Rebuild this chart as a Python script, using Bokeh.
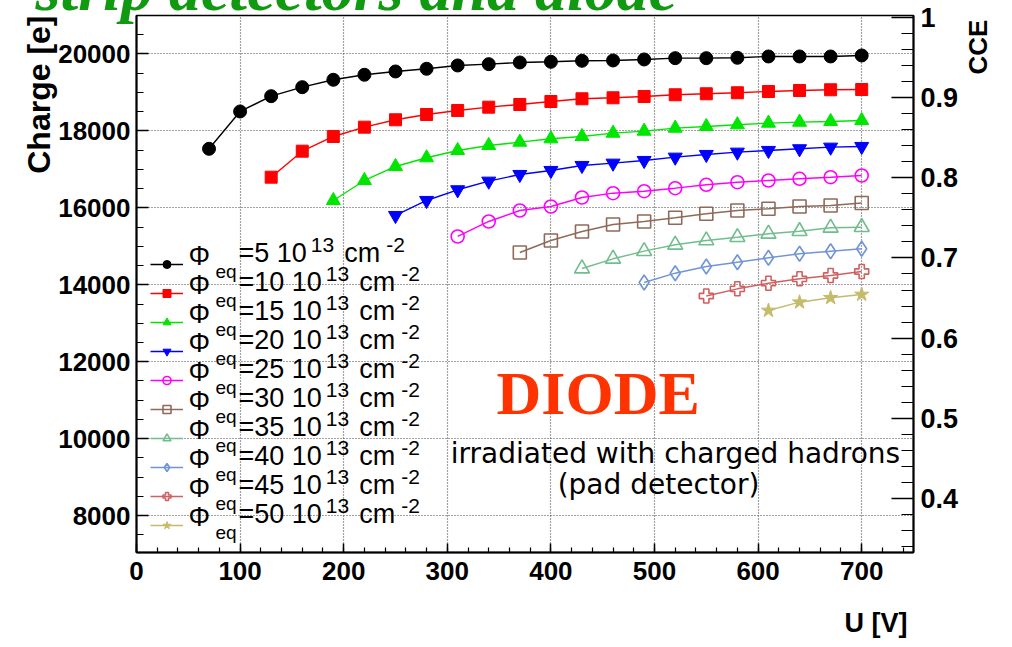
from math import pi
from bokeh.plotting import figure
from bokeh.models import (Range1d, LinearAxis, SingleIntervalTicker, Label,
                          Legend, LegendItem, CustomJSTickFormatter)
from bokeh.embed import file_html
from bokeh.resources import INLINE

# ---------------- data ----------------
voltage = [70, 100, 130, 160, 190, 220, 250, 280, 310, 340, 370,
           400, 430, 460, 490, 520, 550, 580, 610, 640, 670, 700]
fluence = [5, 10, 15, 20, 25, 30, 35, 40, 45, 50]

charge_f5 = [17535, 18505, 18903, 19137, 19329, 19459, 19545, 19615, 19701, 19735, 19779,
             19797, 19823, 19831, 19857, 19891, 19891, 19901, 19935, 19935, 19935, 19961]
charge_f10 = [16797, 17473, 17855, 18097, 18289, 18427, 18531, 18617, 18687, 18765,
              18835, 18861, 18895, 18939, 18965, 18991, 19025, 19051, 19069, 19077]
charge_f15 = [16191, 16711, 17075, 17301, 17491, 17621, 17707, 17795, 17855,
              17941, 17993, 18071, 18115, 18159, 18201, 18227, 18245, 18271]
charge_f20 = [15801, 16191, 16469, 16693, 16867, 16971, 17101, 17161,
              17231, 17317, 17387, 17447, 17491, 17535, 17577, 17595]
charge_f25 = [15255, 15645, 15931, 16035, 16269, 16381, 16433,
              16511, 16599, 16667, 16711, 16755, 16797, 16841]
charge_f30 = [14839, 15151, 15385, 15567, 15645, 15741, 15845, 15931, 15975, 16035, 16061, 16126]
charge_f35 = [14423, 14675, 14873, 15039, 15151, 15237, 15325, 15393, 15481, 15497]
charge_f40 = [14059, 14301, 14475, 14587, 14701, 14805, 14873, 14935]
charge_f45 = [13708, 13895, 14041, 14155, 14241, 14345]
charge_f50 = [13331, 13547, 13661, 13747]

series = [charge_f5, charge_f10, charge_f15, charge_f20, charge_f25,
          charge_f30, charge_f35, charge_f40, charge_f45, charge_f50]

x_ticks_interval = 100
charge_ticks_interval = 2000
cce_ticks_interval = 0.1

# ---------------- styles ----------------
colors = ["#000000", "#ff0000", "#00e600", "#0000ff", "#ff00ff",
          "#8f6a5a", "#72bd8e", "#7094d8", "#d06060", "#c4bc6a"]
markers = ["circle", "square", "triangle", "inverted_triangle", "circle",
           "square", "triangle", "diamond", "plus", "star"]
filled = [True, True, True, True, False, False, False, False, False, True]
sizes = [13, 12, 14, 14, 13, 13, 15, 15, 14, 15]

W = 1012
SHIFT = 43                      # canvas pushed up by this much (title cut off at top)
H = 647 + SHIFT
FL, FR, FT, FB = 136, 913, 15, 552   # frame edges in page pixels

p = figure(width=W, height=H, output_backend="svg", toolbar_location=None,
           x_range=Range1d(0, 750), y_range=Range1d(7040, 21000),
           min_border_left=FL, min_border_right=W - FR,
           min_border_top=FT + SHIFT, min_border_bottom=647 - FB,
           background_fill_color="white", border_fill_color="white",
           title="strip detectors and diode", title_location="above",
           margin=(-SHIFT, 0, 0, 0))
p.outline_line_color = "black"
p.outline_line_width = 1.5

t = p.title
t.text_font = "Liberation Serif"
t.text_font_style = "bold italic"
t.text_font_size = "64px"
t.text_color = "#119911"
t.align = "left"
t.offset = 35 - FL
t.standoff = -16
t.vertical_align = "bottom"

xax = p.xaxis[0]
yax = p.yaxis[0]
xax.ticker = SingleIntervalTicker(interval=x_ticks_interval, num_minor_ticks=5)
yax.ticker = SingleIntervalTicker(interval=charge_ticks_interval, num_minor_ticks=4)

p.extra_y_ranges = {"cce": Range1d(0.333, 1.002)}
cax = LinearAxis(y_range_name="cce",
                 ticker=SingleIntervalTicker(interval=cce_ticks_interval, num_minor_ticks=5),
                 formatter=CustomJSTickFormatter(
                     code="return Math.abs(tick - 1) < 1e-6 ? '1' : tick.toFixed(1);"))
p.add_layout(cax, "right")

for ax in (xax, yax, cax):
    ax.major_tick_out = 0
    ax.minor_tick_out = 0
    ax.axis_line_color = "black"
    ax.axis_line_width = 2
    ax.major_tick_line_color = "black"
    ax.minor_tick_line_color = "black"
    ax.major_tick_line_width = 1.5
    ax.minor_tick_line_width = 1.2
    ax.major_label_text_font = "Liberation Sans"
    ax.major_label_text_font_style = "bold"
    ax.major_label_text_color = "black"
    ax.major_label_text_font_size = "26px"
    ax.axis_label_text_font = "Liberation Sans"
    ax.axis_label_text_font_style = "bold"
    ax.axis_label_text_color = "black"

for ax in (xax, yax):
    if "axis_label_align" in ax.properties():
        ax.axis_label_align = "end"

yax.formatter.use_scientific = False
xax.major_tick_in = 9
xax.minor_tick_in = 5
xax.major_label_standoff = 9
xax.axis_label = "U [V]" + "\u00a0" * 10
xax.axis_label_text_font_size = "27px"
xax.axis_label_standoff = 25

yax.major_tick_in = 12
yax.minor_tick_in = 7
yax.major_label_standoff = 6
yax.axis_label = "Charge [e]"
yax.axis_label_text_font_size = "32px"
yax.axis_label_standoff = 16
yax.axis_label_orientation = pi / 2
yax.axis_label_text_align = "right"

cax.major_tick_in = 22
cax.minor_tick_in = 12
cax.major_label_standoff = 7
cax.major_label_text_font_size = "27px"
# label reads bottom-to-top and starts at the middle of the axis; leading
# no-break spaces lift the visible word up to the top of the axis
cax.axis_label = "\u00a0" * 29 + "CCE"
cax.axis_label_text_font_size = "26px"
cax.axis_label_standoff = 17
cax.axis_label_orientation = pi / 2

for g in (p.xgrid[0], p.ygrid[0]):
    g.grid_line_color = "#444444"
    g.grid_line_dash = "1 2"
    g.grid_line_width = 1.2

# ---------------- data series ----------------
items = []
for q, col, mk, fl, sz in zip(series, colors, markers, filled, sizes):
    xs = voltage[-len(q):]
    lr = p.line(xs, q, line_color=col, line_width=1.4)
    sr = p.scatter(xs, q, marker=mk, size=sz, line_color=col,
                   fill_color=col if fl else None,
                   line_width=1 if fl else 1.6)
    items.append(LegendItem(label=" ", renderers=[lr, sr]))

ROW0, PITCH, GH = 263.5, 29, 20
n = len(items)
legend_h = n * GH + (n - 1) * (PITCH - GH)
legend = Legend(items=items, location=(150 - FL, FB - (ROW0 - GH / 2 + legend_h)),
                glyph_width=33, glyph_height=GH, label_height=GH, spacing=PITCH - GH,
                padding=0, margin=0, label_standoff=0, label_width=1,
                label_text_font_size="1px", border_line_color=None,
                background_fill_alpha=0)
p.add_layout(legend)

MID = {"Liberation Sans": 0.3465, "Liberation Serif": 0.3375, "DejaVu Sans": 0.346}


def lab(text, X, Yb, size, color="black", font="Liberation Sans", style="normal",
        align="left"):
    """Text whose alphabetic baseline sits at page pixel Yb."""
    yc = Yb - MID[font] * size
    p.add_layout(Label(x=X - FL, y=FB - yc, x_units="screen", y_units="screen",
                       text=text, text_font_size=f"{size}px", text_color=color,
                       text_font=font, text_font_style=style, text_align=align,
                       text_baseline="middle"))


# legend texts
for i, f in enumerate(fluence):
    yb = ROW0 + PITCH * i - 2
    lab("\u03a6", 188, yb + 3, 27)
    lab("eq", 215, yb + 16, 19)
    main = f"={f} 10"
    lab(main, 238, yb, 27)
    w_main = 27 * (0.584 + 0.556 * len(str(f)) + 0.278 + 1.112)
    xs = 238 + w_main + 4
    lab("13", xs, yb - 10, 21)
    xc = xs + 21 * 1.112 + 10
    lab("cm", xc, yb, 27)
    lab("-2", xc + 27 * 1.333 + 6, yb - 10, 21)

# annotations inside the frame
lab("DIODE", 496, 413, 62, color="#ff3300", font="Liberation Serif", style="bold")
lab("irradiated with charged hadrons", 675, 463, 28, font="DejaVu Sans", align="center")
lab("(pad detector)", 658, 494, 28, font="DejaVu Sans", align="center")

open("out.html", "w").write(file_html(p, INLINE))
